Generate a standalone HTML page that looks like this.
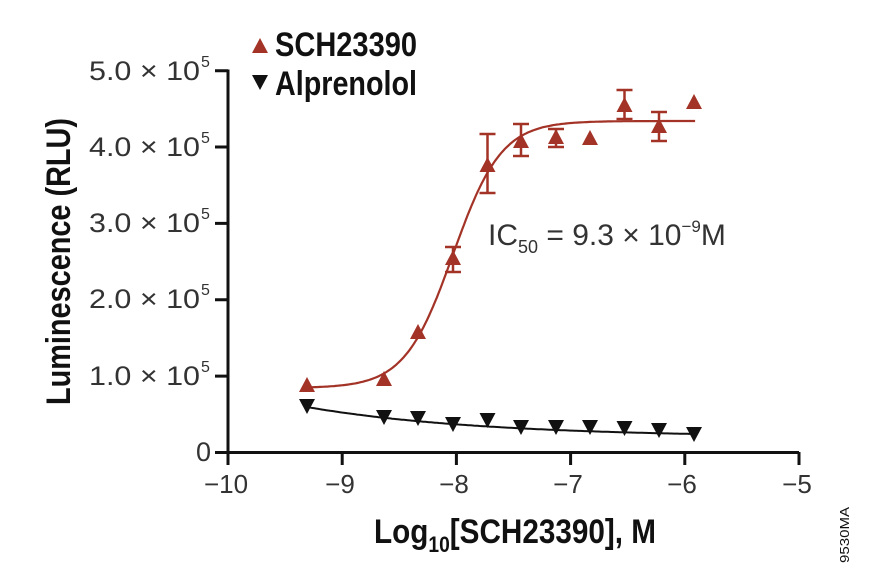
<!DOCTYPE html>
<html><head><meta charset="utf-8"><style>html,body{margin:0;padding:0;background:#fff;}svg{display:block;}</style></head>
<body>
<svg width="875" height="579" viewBox="0 0 875 579" xmlns="http://www.w3.org/2000/svg" font-family="Liberation Sans, sans-serif">
<rect width="875" height="579" fill="#fff"/>
<g stroke="#111" stroke-width="3" fill="none">
<path d="M228 69.5 V453 M226.5 452.5 H799"/>
<path d="M215 70.7H228M215 147H228M215 223.4H228M215 299.7H228M215 376.1H228M215 452.5H228"/>
<path d="M228 452V465M342.2 452V465M456.4 452V465M570.6 452V465M684.8 452V465M799 452V465"/>
</g>
<g font-size="27" fill="#333">
<text x="89" y="80" textLength="111" lengthAdjust="spacingAndGlyphs">5.0 × 10</text>
<text x="89" y="156" textLength="111" lengthAdjust="spacingAndGlyphs">4.0 × 10</text>
<text x="89" y="232" textLength="111" lengthAdjust="spacingAndGlyphs">3.0 × 10</text>
<text x="89" y="308" textLength="111" lengthAdjust="spacingAndGlyphs">2.0 × 10</text>
<text x="89" y="385" textLength="111" lengthAdjust="spacingAndGlyphs">1.0 × 10</text>
<text x="211" y="461" text-anchor="end">0</text>
</g>
<g font-size="16" fill="#333">
<text x="201" y="67">5</text><text x="201" y="143">5</text><text x="201" y="219">5</text><text x="201" y="295">5</text><text x="201" y="372">5</text>
</g>
<g font-size="26" fill="#333" text-anchor="middle">
<text x="226" y="493">−10</text><text x="340" y="493">−9</text><text x="454" y="493">−8</text><text x="568" y="493">−7</text><text x="682" y="493">−6</text><text x="797" y="493">−5</text>
</g>
<text x="374" y="543" font-size="34" font-weight="bold" fill="#111" textLength="282" lengthAdjust="spacingAndGlyphs">Log<tspan font-size="22" dy="9">10</tspan><tspan dy="-9">[SCH23390], M</tspan></text>
<text transform="translate(70,405) rotate(-90)" font-size="34" font-weight="bold" fill="#111" textLength="287" lengthAdjust="spacingAndGlyphs">Luminescence (RLU)</text>
<text transform="translate(849,563) rotate(-90)" font-size="13" fill="#111" textLength="56" lengthAdjust="spacingAndGlyphs">9530MA</text>
<path d="M252 53 L260 38 L268 53Z" fill="#a33327"/>
<text x="275" y="56" font-size="34" font-weight="bold" fill="#111" textLength="142" lengthAdjust="spacingAndGlyphs">SCH23390</text>
<path d="M252 75 L268 75 L260 90Z" fill="#111"/>
<text x="275" y="95" font-size="34" font-weight="bold" fill="#111" textLength="142" lengthAdjust="spacingAndGlyphs">Alprenolol</text>
<text x="488" y="245" font-size="30" fill="#333">IC<tspan font-size="18" dy="8">50</tspan><tspan dy="-8"> = 9.3 × 10</tspan><tspan font-size="17" dy="-13">−9</tspan><tspan dy="13">M</tspan></text>
<path id="c1" fill="none" stroke="#a33327" stroke-width="2.2" d=""/>
<path id="c2" fill="none" stroke="#111" stroke-width="2" d=""/>
<g stroke="#a33327" stroke-width="2.5" fill="none">
<path d="M453 247V272M445 247H461M445 272H461"/>
<path d="M487.5 134V193M479.5 134H495.5M479.5 193H495.5"/>
<path d="M521 124V156M513 124H529M513 156H529"/>
<path d="M556 129V147M548 129H564M548 147H564"/>
<path d="M624.5 90V119M616.5 90H632.5M616.5 119H632.5"/>
<path d="M659 112V141M651 112H667M651 141H667"/>
</g>
<g id="m1" fill="#a33327"></g>
<g id="m2" fill="#111"></g>
<script>
(function(){
var px=function(l){return 228+114.2*(l+10);};
var d="",d2="";
for(var i=0;i<=200;i++){var l=-9.31+i*(3.4/200);var f=1/(1+Math.pow(10,(-8.03-l)*2.05));var y=388-267*f;d+=(i?"L":"M")+px(l).toFixed(1)+" "+y.toFixed(1);
var t=(l+9.31)/3.4;var y2=407+27*(1-Math.exp(-2.2*t))/(1-Math.exp(-2.2));d2+=(i?"L":"M")+px(l).toFixed(1)+" "+y2.toFixed(1);}
document.getElementById('c1').setAttribute('d',d);
document.getElementById('c2').setAttribute('d',d2);
var sx=[307,384,418,453,487.5,521,556,590,624.5,659,694];
var sy=[386,380,333,259,166,142,138,139,106,127,103];
var ay=[406,417,418,424,420,427,427,427,428,430,434];
var g1=document.getElementById('m1'),g2=document.getElementById('m2'),ns="http://www.w3.org/2000/svg";
for(var j=0;j<11;j++){
var p=document.createElementNS(ns,'path');p.setAttribute('d','M'+(sx[j]-8)+' '+(sy[j]+6)+'L'+sx[j]+' '+(sy[j]-9)+'L'+(sx[j]+8)+' '+(sy[j]+6)+'Z');g1.appendChild(p);
var q=document.createElementNS(ns,'path');q.setAttribute('d','M'+(sx[j]-8)+' '+(ay[j]-7)+'L'+(sx[j]+8)+' '+(ay[j]-7)+'L'+sx[j]+' '+(ay[j]+8)+'Z');g2.appendChild(q);}
})();
</script>
</svg>
</body></html>
